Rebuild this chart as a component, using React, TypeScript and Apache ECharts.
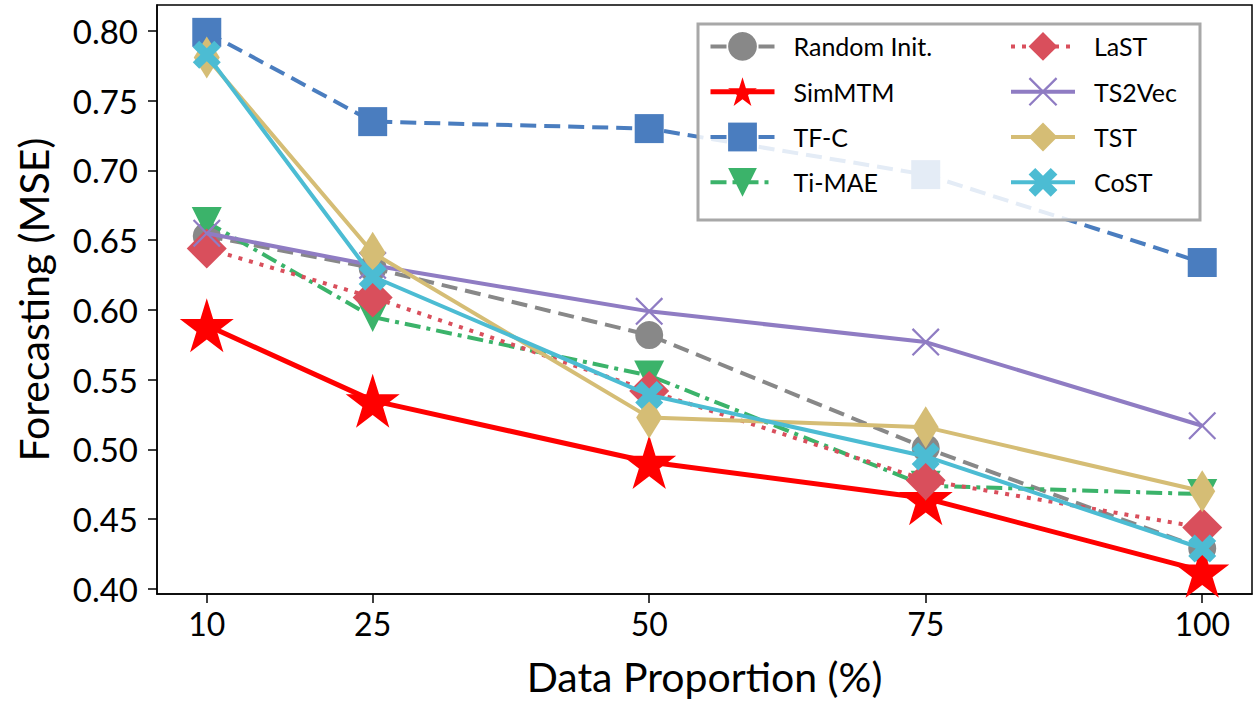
import React, { useEffect, useRef } from "react";
import * as echarts from "echarts";

const xValues = [10, 25, 50, 75, 100];
const xTicks = [10, 25, 50, 75, 100];
const yTicks = [0.4, 0.45, 0.5, 0.55, 0.6, 0.65, 0.7, 0.75, 0.8];

const randomInit = [0.653, 0.630, 0.582, 0.501, 0.429];
const simMTM = [0.589, 0.535, 0.491, 0.465, 0.413];
const tfC = [0.799, 0.735, 0.730, 0.697, 0.634];
const tiMAE = [0.663, 0.595, 0.553, 0.474, 0.468];
const laST = [0.644, 0.609, 0.542, 0.478, 0.444];
const ts2Vec = [0.655, 0.632, 0.599, 0.577, 0.517];
const tst = [0.781, 0.641, 0.523, 0.516, 0.470];
const coST = [0.783, 0.624, 0.539, 0.495, 0.429];

const seriesNames = ["Random Init.", "SimMTM", "TF-C", "Ti-MAE", "LaST", "TS2Vec", "TST", "CoST"];

const STAR =
  "path://M0,-50 L11.23,-15.45 L47.55,-15.45 L18.17,5.9 L29.39,40.45 L0,19.1 L-29.39,40.45 L-18.17,5.9 L-47.55,-15.45 L-11.23,-15.45 Z";
const FAT_X =
  "path://M-70,130 L0,60 L70,130 L130,70 L60,0 L130,-70 L70,-130 L0,-60 L-70,-130 L-130,-70 L-60,0 L-130,70 Z";
const THIN_X =
  "path://M-94,106 L0,12 L94,106 L106,94 L12,0 L106,-94 L94,-106 L0,-12 L-94,-106 L-106,-94 L-12,0 L-106,94 Z";
const THIN_DIAMOND = "path://M0,-50 L30,0 L0,50 L-30,0 Z";

const FONT = "Lato, 'DejaVu Sans', sans-serif";

export default function App() {
  const ref = useRef<HTMLDivElement>(null);
  useEffect(() => {
    document.body.style.margin = "0";
    const chart = echarts.init(ref.current!, null, { renderer: "svg" });
    const mk = (vals: number[]) => vals.map((v, i) => [xValues[i], v]);
    const specs = [
      { data: randomInit, color: "#888888", symbol: "circle", size: 28, type: [16, 8], width: 4 },
      { data: simMTM, color: "#ff0000", symbol: STAR, size: 54, type: "solid", width: 5 },
      { data: tfC, color: "#4a7dbf", symbol: "rect", size: 29, type: [16, 8], width: 4 },
      { data: tiMAE, color: "#3bb36a", symbol: "triangle", size: 30, rotate: 180, type: [16, 6, 4, 6], width: 4 },
      { data: laST, color: "#d94f5c", symbol: "diamond", size: 40, type: [4, 7], width: 4 },
      { data: ts2Vec, color: "#8f7cc3", symbol: THIN_X, size: 28, type: "solid", width: 4 },
      { data: tst, color: "#d5bd75", symbol: THIN_DIAMOND, size: [26, 42], type: "solid", width: 4 },
      { data: coST, color: "#4cbcd3", symbol: FAT_X, size: 28, type: "solid", width: 4 },
    ];
    const series = specs.map((s, i) => ({
      name: seriesNames[i],
      type: "line",
      data: mk(s.data),
      z: 2 + i,
      symbol: s.symbol,
      symbolSize: s.size,
      symbolRotate: (s as any).rotate || 0,
      symbolKeepAspect: false,
      showAllSymbol: true,
      color: s.color,
      itemStyle: { color: s.color, opacity: 1 },
      lineStyle: { color: s.color, width: s.width, type: s.type },
      emphasis: { disabled: true },
    }));
    const legendData = specs.map((s, i) => ({
      name: seriesNames[i],
      itemStyle: { color: s.color },
      lineStyle: { color: s.color, width: s.width, type: s.type, opacity: 1 },
    }));
    const legendCommon = {
      orient: "vertical",
      top: 32,
      padding: 0,
      itemWidth: 64,
      itemHeight: 36,
      itemGap: 16.5,
      z: 20,
      selectedMode: false,
      textStyle: { fontSize: 25, color: "#000", fontFamily: FONT, padding: [0, 0, 0, 14] },
    };
    chart.setOption({
      animation: false,
      backgroundColor: "#fff",
      grid: {
        left: 157,
        top: 5,
        width: 1095,
        height: 589,
        show: true,
        borderColor: "#000",
        borderWidth: 1.5,
        backgroundColor: "transparent",
        containLabel: false,
        outerBoundsMode: "none",
      },
      graphic: [
        {
          type: "rect",
          z: 10,
          shape: { x: 698, y: 24, width: 502, height: 196 },
          style: { fill: "rgba(255,255,255,0.85)", stroke: "#a8a8a8", lineWidth: 3 },
        },
      ],
      legend: [
        { ...legendCommon, left: 708, data: legendData.slice(0, 4) },
        { ...legendCommon, left: 1009, data: legendData.slice(4) },
      ],
      xAxis: {
        type: "value",
        min: 5.5,
        max: 104.5,
        name: "Data Proportion (%)",
        nameLocation: "middle",
        nameGap: 62,
        nameTextStyle: { fontSize: 41, color: "#000", fontFamily: FONT },
        axisLine: { show: true, lineStyle: { color: "#000", width: 1.5 } },
        axisTick: { show: true, length: 9, lineStyle: { color: "#000", width: 1.5 }, customValues: xTicks },
        axisLabel: { fontSize: 32, color: "#000", fontFamily: FONT, margin: 13, customValues: xTicks },
        splitLine: { show: false },
      },
      yAxis: {
        type: "value",
        min: 0.3964,
        max: 0.8186,
        name: "Forecasting (MSE)",
        nameLocation: "middle",
        nameGap: 103,
        nameTextStyle: { fontSize: 41, color: "#000", fontFamily: FONT },
        axisLine: { show: true, lineStyle: { color: "#000", width: 1.5 } },
        axisTick: { show: true, length: 9, lineStyle: { color: "#000", width: 1.5 }, customValues: yTicks },
        axisLabel: {
          fontSize: 33,
          color: "#000",
          fontFamily: FONT,
          margin: 19,
          customValues: yTicks,
          formatter: (v: number) => v.toFixed(2),
        },
        splitLine: { show: false },
      },
      series,
    });
    return () => chart.dispose();
  }, []);
  return <div ref={ref} style={{ position: "absolute", left: 0, top: 0, width: 1253, height: 705 }} />;
}
